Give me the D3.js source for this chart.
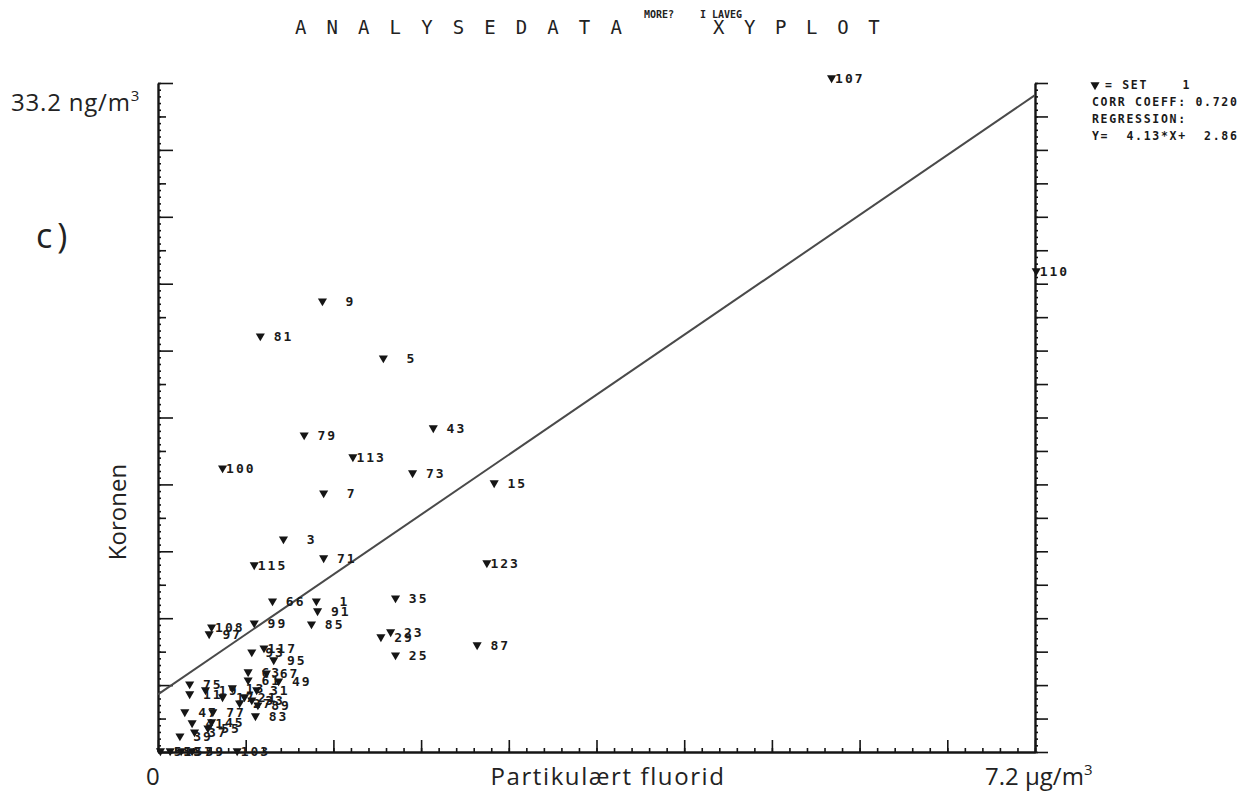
<!DOCTYPE html>
<html>
<head>
<meta charset="utf-8">
<script src="https://cdn.jsdelivr.net/npm/d3@7"></script>
<style>
  body { margin: 0; background: #fff; }
  svg { display: block; }
  .lbl { font-family: "DejaVu Sans Mono", monospace; font-weight: bold; font-size: 13px; fill: #1a1a1a; letter-spacing: 2px; }
  .big { font-family: "Open Sans", "DejaVu Sans", sans-serif; fill: #222; }
  .leg { font-family: "DejaVu Sans Mono", monospace; font-weight: bold; font-size: 11.5px; fill: #1a1a1a; letter-spacing: 1.7px; white-space: pre; }
</style>
</head>
<body>
<svg id="chart" width="1244" height="793"></svg>
<script>
// Sample numbers, particulate fluoride (µg/m3) and coronene (ng/m3)
const sampleIds = [107, 110, 9, 81, 5, 43, 79, 113, 100, 73, 15, 7, 3, 71, 115, 123, 35, 66, 1, 91,
  85, 99, 108, 97, 29, 23, 25, 87, 117, 93, 95, 63, 61, 67, 49, 31, 75, 11, 19, 13,
  21, 27, 33, 89, 17, 47, 77, 83, 41, 37, 55, 45, 39, 51, 53, 57, 59, 103];
const fluoride = [5.53, 7.21, 1.35, 0.84, 1.85, 2.26, 1.20, 1.60, 0.53, 2.09, 2.76, 1.36, 1.03, 1.36, 0.79, 2.70, 1.95, 0.94, 1.30, 1.31,
  1.26, 0.79, 0.44, 0.42, 1.83, 1.91, 1.95, 2.62, 0.87, 0.77, 0.95, 0.74, 0.74, 0.89, 0.99, 0.81, 0.26, 0.26, 0.39, 0.61,
  0.71, 0.67, 0.77, 0.82, 0.53, 0.22, 0.45, 0.80, 0.28, 0.30, 0.41, 0.44, 0.18, 0.02, 0.10, 0.19, 0.28, 0.65];
const coronene = [33.45, 23.87, 22.38, 20.64, 19.55, 16.08, 15.73, 14.64, 14.09, 13.85, 13.35, 12.85, 10.57, 9.63, 9.28, 9.38, 7.64, 7.49, 7.49, 7.00,
  6.35, 6.40, 6.20, 5.86, 5.71, 5.96, 4.81, 5.31, 5.16, 4.96, 4.57, 3.97, 3.57, 3.92, 3.52, 3.08, 3.37, 2.88, 3.08, 3.18,
  2.73, 2.43, 2.58, 2.33, 2.73, 1.99, 1.99, 1.79, 1.44, 0.99, 1.19, 1.49, 0.79, 0.05, 0.05, 0.05, 0.05, 0.05];

// Axis extents and regression result
const xMax = 7.2;
const yMax = 33.2;
const regressionSlope = 4.13;
const regressionIntercept = 2.86;
const corrCoeff = 0.720;

// Text
const titleMain = "ANALYSEDATA";
const titleNoteA = "MORE?";
const titleNoteB = "I LAVEG";
const titleEnd = "XYPLOT";
const legendLines = ["= SET    1", "CORR COEFF: " + corrCoeff.toFixed(3), "REGRESSION:",
  "Y=  " + regressionSlope.toFixed(2) + "*X+  " + regressionIntercept.toFixed(2)];
const xLabel = "Partikulært fluorid";
const yLabel = "Koronen";
const xMinLabel = "0";
const xMaxLabel = "7.2 µg/m";
const yMaxLabel = "33.2 ng/m";
const panelLabel = "c)";

const points = sampleIds.map((id, i) => ({ id, fx: fluoride[i], cor: coronene[i] }));

const svg = d3.select("#chart");
const x = d3.scaleLinear().domain([0, xMax]).range([158, 1035]);
const y = d3.scaleLinear().domain([0, yMax]).range([752, 83]);

const ink = "#151515";

// ---- axes ----
const yStep = yMax / 20;
const yLong = d3.range(0, 21, 2).map(i => i * yStep);
const yShort = d3.range(1, 20, 2).map(i => i * yStep);
const yTiny = d3.range(0, 101).map(i => i * yMax / 100);
const xMajor = d3.range(0, 11).map(i => i * xMax / 10);
const xTiny = d3.range(0, 51).map(i => i * xMax / 50);

function styleAxis(g, width) {
  g.selectAll(".domain").attr("stroke", ink).attr("stroke-width", width);
  g.selectAll(".tick line").attr("stroke", ink).attr("stroke-width", 1.6);
  g.selectAll("text").remove();
}

// left axis (ticks inward)
[[yTiny, 3], [yShort, 8], [yLong, 15]].forEach(([vals, size], k) => {
  const g = svg.append("g").attr("transform", `translate(${x(0)},0)`)
    .call(d3.axisRight(y).tickValues(vals).tickSize(size).tickSizeOuter(0).tickFormat(""));
  styleAxis(g, 2.4);
  if (k < 2) g.select(".domain").remove();
});

// right axis (ticks outward)
[[yTiny, 3], [d3.range(0, 21).map(i => i * yStep), 13]].forEach(([vals, size], k) => {
  const g = svg.append("g").attr("transform", `translate(${x(xMax)},0)`)
    .call(d3.axisRight(y).tickValues(vals).tickSize(size).tickSizeOuter(0).tickFormat(""));
  styleAxis(g, 2.4);
  if (k < 1) g.select(".domain").remove();
});

// bottom axis (ticks upward)
[[xTiny, 4], [xMajor, 12]].forEach(([vals, size], k) => {
  const g = svg.append("g").attr("transform", `translate(0,${y(0)})`)
    .call(d3.axisTop(x).tickValues(vals).tickSize(size).tickSizeOuter(0).tickFormat(""));
  styleAxis(g, 2.4);
  if (k < 1) g.select(".domain").remove();
});

// ---- regression line ----
svg.append("line")
  .attr("x1", x(0)).attr("y1", y(regressionIntercept))
  .attr("x2", x(xMax)).attr("y2", y(regressionSlope * xMax + regressionIntercept))
  .attr("stroke", "#4a4a4a").attr("stroke-width", 2);

// ---- points ----
const marker = d3.symbol().type(d3.symbolTriangle).size(36)();
const pg = svg.append("g");
pg.selectAll("path").data(points).join("path")
  .attr("d", marker)
  .attr("transform", d => `translate(${x(d.fx)},${y(d.cor)}) rotate(180)`)
  .attr("fill", ink);
pg.selectAll("text").data(points).join("text")
  .attr("class", "lbl")
  .attr("x", d => x(d.fx) + 33)
  .attr("y", d => y(d.cor) + 5)
  .attr("text-anchor", "end")
  .text(d => String(d.id));

// ---- legend ----
const lx = 1092, ly0 = 89, lstep = 17;
svg.append("path").attr("d", marker)
  .attr("transform", `translate(${lx + 3},${ly0 - 4}) rotate(180)`).attr("fill", ink);
svg.selectAll("text.leg").data(legendLines).join("text")
  .attr("class", "leg")
  .attr("x", (d, i) => i === 0 ? lx + 13 : lx)
  .attr("y", (d, i) => ly0 + i * lstep)
  .text(d => d);

// ---- title ----
const title = svg.append("g").attr("class", "big");
title.append("text").attr("x", 295).attr("y", 34)
  .style("font-family", "DejaVu Sans Mono").style("font-size", "19px")
  .style("letter-spacing", "20.1px").text(titleMain);
title.append("text").attr("x", 644).attr("y", 18)
  .style("font-family", "DejaVu Sans Mono").style("font-size", "10px").style("font-weight", "bold")
  .text(titleNoteA);
title.append("text").attr("x", 700).attr("y", 18)
  .style("font-family", "DejaVu Sans Mono").style("font-size", "10px").style("font-weight", "bold")
  .text(titleNoteB);
title.append("text").attr("x", 713).attr("y", 34)
  .style("font-family", "DejaVu Sans Mono").style("font-size", "19px")
  .style("letter-spacing", "19.6px").text(titleEnd);

// ---- axis annotations ----
const ann = svg.append("g").attr("class", "big").style("font-size", "24px");
const ymx = ann.append("text").attr("x", 11).attr("y", 111).style("letter-spacing", "0.8px").text(yMaxLabel);
ymx.append("tspan").attr("dy", -10).style("font-size", "15px").text("3");
ann.append("text").attr("x", 36).attr("y", 248).style("font-size", "34px").style("letter-spacing", "5px").text(panelLabel);
ann.append("text").attr("x", 146).attr("y", 785).text(xMinLabel);
ann.append("text").attr("x", 608).attr("y", 785).attr("text-anchor", "middle").style("letter-spacing", "1.6px").text(xLabel);
const xmx = ann.append("text").attr("x", 985).attr("y", 785).text(xMaxLabel);
xmx.append("tspan").attr("dy", -10).style("font-size", "15px").text("3");
ann.append("text").attr("transform", "translate(126,512) rotate(-90)")
  .attr("text-anchor", "middle").text(yLabel);
</script>
</body>
</html>
